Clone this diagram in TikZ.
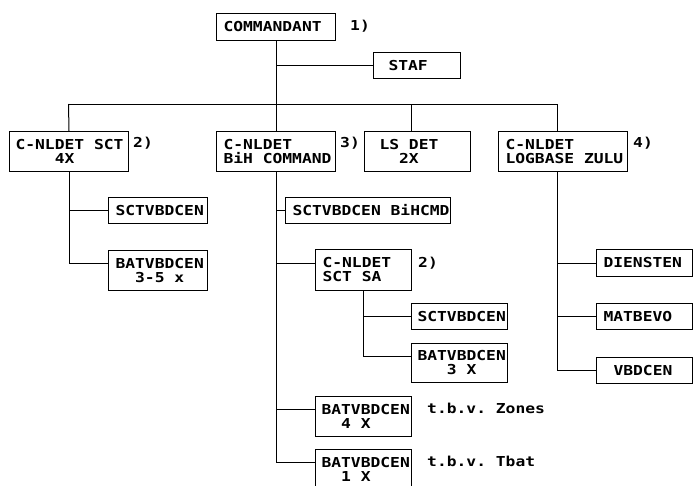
\documentclass[tikz,border=0pt]{standalone}
\usepackage{fontspec}
\newfontfamily\mono[FakeStretch=1.19]{DejaVu Sans Mono}
\newcommand\ws{\hphantom{X}}
\newcommand\bx[7]{%
  \pgfmathsetmacro\bw{#4-#2}\pgfmathsetmacro\bh{#5-#3}%
  \def\ip{\hspace*{#6pt}}%
  \node[boxst, text width=\bw pt, minimum height=\bh pt] (#1) at (#2,#3) {#7};}
\begin{document}
\begin{tikzpicture}[x=1pt,y=-1pt,
  txtfont/.style={font={\mono\bfseries\fontsize{13.7pt}{14pt}\selectfont}},
  boxst/.style={draw, line width=1pt, anchor=north west, inner xsep=0pt, inner ysep=0pt, align=left, txtfont},
  lab/.style={anchor=base west, inner sep=0pt, txtfont},
  conn/.style={line width=1pt}]
\useasboundingbox (0,0) rectangle (693,485);
\fill[white] (0,0) rectangle (693,485);
% boxes
\bx{cmd}{216}{13}{335}{40}{7}{\ip COMMANDANT}
\bx{staf}{373}{52}{460}{78}{15}{\ip STAF}
\bx{sct}{9}{131}{128}{171}{6}{\ip C-NLDET\ws SCT\\\ip\ws\ws\ws\ws 4X}
\bx{bih}{216}{131}{335}{171}{7}{\ip C-NLDET\\\ip BiH\ws COMMAND}
\bx{ls}{364}{131}{470}{171}{15}{\ip LS\ws DET\\\ip\ws\ws 2X}
\bx{log}{498}{131}{627}{171}{7}{\ip C-NLDET\\\ip LOGBASE\ws ZULU}
\bx{sctone}{108}{197}{207}{223}{7}{\ip SCTVBDCEN}
\bx{batone}{108}{250}{207}{290}{7}{\ip BATVBDCEN\\\ip\ws\ws 3-5\ws x}
\bx{bihcmd}{285}{197}{450}{223}{7}{\ip SCTVBDCEN\ws BiHCMD}
\bx{sa}{315}{249}{411}{290}{7}{\ip C-NLDET\\\ip SCT\ws SA}
\bx{scttwo}{411}{303}{507}{329}{6}{\ip SCTVBDCEN}
\bx{battwo}{411}{343}{507}{382}{6}{\ip BATVBDCEN\\\ip\ws\ws\ws 3\ws X}
\bx{batfour}{315}{396}{411}{436}{6}{\ip BATVBDCEN\\\ip\ws\ws 4\ws X}
\bx{batfive}{315}{449}{411}{489}{6}{\ip BATVBDCEN\\\ip\ws\ws 1\ws X}
\bx{dien}{596}{249}{691.5}{276}{7}{\ip DIENSTEN}
\bx{mat}{596}{303}{691.5}{329}{7}{\ip MATBEVO}
\bx{vbd}{596}{357}{691.5}{383}{17}{\ip VBDCEN}
% labels
\node[lab] (n1) at (350,30) {1)};
\node[lab] (n2) at (133,147) {2)};
\node[lab] (n3) at (340,147) {3)};
\node[lab] (n4) at (633,147) {4)};
\node[lab] (n5) at (418,267) {2)};
\node[lab] (zones) at (427,413) {t.b.v.\ws Zones};
\node[lab] (tbat) at (427,466) {t.b.v.\ws Tbat};
% entry points of two-line boxes
\coordinate (batoneIn) at ([yshift=-13pt]batone.north west);
\coordinate (batfiveIn) at ([yshift=-13pt]batfive.north west);
\coordinate (batfourIn) at ([yshift=-13pt]batfour.north west);
\coordinate (battwoIn) at ([yshift=-13pt]battwo.north west);
\coordinate (saIn) at ([yshift=-14pt]sa.north west);
% connectors
\coordinate (bl) at (68.5,104);
\coordinate (br) at (557.5,104);
\coordinate (lsd) at (411.5,104);
\draw[conn] (cmd.south) -- (bih.north);
\draw[conn] (cmd.south |- staf.west) -- (staf.west);
\draw[conn] (bl) -- (br);
\draw[conn] (bl) -- (sct.north);
\draw[conn] (lsd) -- (lsd |- ls.north);
\draw[conn] (br) -- (br |- log.north);
% SCT column
\draw[conn] (sct.south) |- (batoneIn);
\draw[conn] (sct.south |- sctone.west) -- (sctone.west);
% BiH column
\draw[conn] (bih.south) |- (batfiveIn);
\draw[conn] (bih.south |- bihcmd.west) -- (bihcmd.west);
\draw[conn] (bih.south |- saIn) -- (saIn);
\draw[conn] (bih.south |- batfourIn) -- (batfourIn);
% SA column
\draw[conn] (sa.south) |- (battwoIn);
\draw[conn] (sa.south |- scttwo.west) -- (scttwo.west);
% LOG column
\draw[conn] (br |- log.south) |- (vbd.west);
\draw[conn] (br |- dien.west) -- (dien.west);
\draw[conn] (br |- mat.west) -- (mat.west);
\end{tikzpicture}
\end{document}
